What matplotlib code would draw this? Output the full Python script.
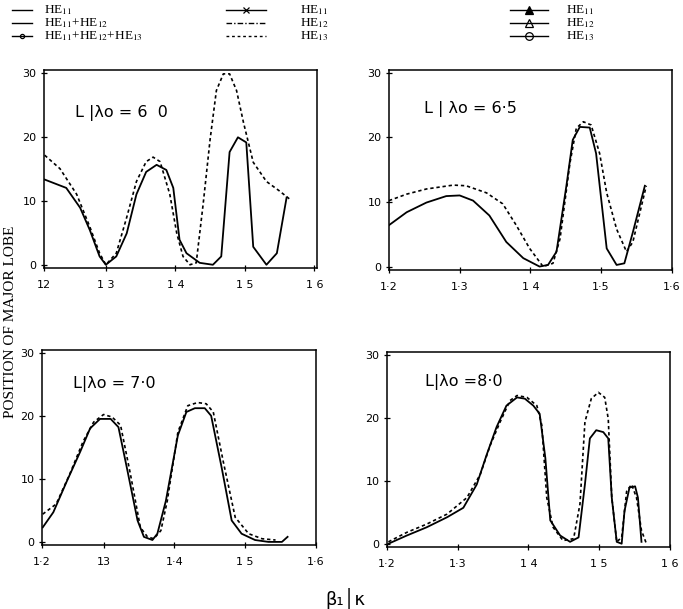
import matplotlib
matplotlib.use("Agg")
import matplotlib.pyplot as plt
from matplotlib.lines import Line2D

plt.rcParams['font.family'] = ['DejaVu Sans']
plt.rcParams['mathtext.fontset'] = 'stix'

# ---------------- data ----------------
# Panel L/λo = 6.0
x60_solid = [1.212, 1.243, 1.263, 1.277, 1.291, 1.300, 1.315, 1.330, 1.344, 1.358, 1.373, 1.387,
             1.397, 1.406, 1.416, 1.435, 1.454, 1.466, 1.478, 1.490, 1.502, 1.512, 1.531, 1.546, 1.560]
y60_solid = [13.3, 12.0, 8.9, 5.4, 1.3, 0.0, 1.3, 4.9, 11.0, 14.5, 15.6, 14.8,
             12.0, 3.9, 1.8, 0.3, 0.0, 1.3, 17.6, 19.9, 19.1, 2.8, 0.0, 1.8, 10.5]
x60_dash = [1.212, 1.234, 1.258, 1.277, 1.291, 1.300, 1.315, 1.330, 1.344, 1.358, 1.368, 1.378,
            1.392, 1.402, 1.411, 1.421, 1.430, 1.440, 1.450, 1.459, 1.469, 1.478, 1.488, 1.498,
            1.512, 1.531, 1.550, 1.565]
y60_dash = [17.1, 15.0, 11.0, 5.9, 1.8, 0.0, 1.8, 7.4, 13.0, 16.1, 16.8, 16.1,
            11.0, 4.9, 1.3, 0.0, 0.3, 9.5, 19.6, 27.2, 29.8, 29.8, 27.2, 22.2,
            16.0, 13.0, 11.5, 10.2]

# Panel L/λo = 6.5
x65_solid = [1.200, 1.225, 1.253, 1.281, 1.300, 1.319, 1.342, 1.366, 1.390, 1.413, 1.425, 1.437,
             1.451, 1.460, 1.470, 1.484, 1.493, 1.508, 1.522, 1.533, 1.545, 1.562]
y65_solid = [6.4, 8.4, 9.9, 10.9, 11.0, 10.2, 7.9, 3.8, 1.3, 0.0, 0.25, 2.3,
             12.5, 19.6, 21.6, 21.5, 17.5, 2.8, 0.25, 0.5, 5.3, 12.5]
x65_dash = [1.200, 1.225, 1.253, 1.291, 1.309, 1.338, 1.361, 1.380, 1.399, 1.418, 1.432, 1.442,
            1.456, 1.465, 1.475, 1.486, 1.498, 1.508, 1.522, 1.536, 1.545, 1.564]
y65_dash = [10.2, 11.2, 12.0, 12.6, 12.5, 11.4, 9.7, 6.4, 2.8, 0.0, 0.5, 4.3,
            16.0, 21.4, 22.4, 21.9, 17.5, 11.4, 5.8, 2.3, 3.8, 12.5]

# Panel L/λo = 7.0
x70_solid = [1.214, 1.229, 1.248, 1.267, 1.281, 1.295, 1.310, 1.321, 1.333, 1.348, 1.357, 1.369,
             1.376, 1.388, 1.405, 1.417, 1.429, 1.443, 1.452, 1.467, 1.481, 1.495, 1.514, 1.533,
             1.552, 1.560]
y70_solid = [2.3, 4.7, 9.6, 14.3, 18.0, 19.5, 19.5, 18.2, 11.7, 3.4, 0.8, 0.3,
             1.3, 6.5, 16.9, 20.6, 21.2, 21.2, 20.0, 11.7, 3.4, 1.3, 0.3, 0.0,
             0.0, 0.8]
x70_dash = [1.214, 1.233, 1.252, 1.271, 1.286, 1.300, 1.312, 1.324, 1.338, 1.352, 1.362, 1.371,
            1.381, 1.390, 1.405, 1.419, 1.433, 1.445, 1.455, 1.469, 1.486, 1.505, 1.524, 1.543]
y70_dash = [4.4, 6.0, 10.7, 15.9, 19.0, 20.2, 19.8, 18.5, 10.7, 2.3, 0.8, 0.5,
            1.8, 6.5, 17.4, 21.6, 22.1, 21.9, 20.6, 12.8, 3.9, 1.3, 0.5, 0.3]

# Panel L/λo = 8.0
x80_solid = [1.202, 1.228, 1.256, 1.285, 1.308, 1.327, 1.341, 1.355, 1.369, 1.384, 1.395, 1.407,
             1.416, 1.424, 1.431, 1.445, 1.459, 1.471, 1.480, 1.487, 1.496, 1.506, 1.513, 1.518,
             1.525, 1.532, 1.536, 1.543, 1.551, 1.555, 1.560]
y80_solid = [0.0, 1.3, 2.6, 4.2, 5.7, 9.4, 14.1, 18.5, 21.9, 23.2, 23.0, 21.9,
             20.6, 13.6, 3.7, 1.3, 0.3, 1.0, 9.4, 16.7, 18.0, 17.7, 16.7, 7.3,
             0.3, 0.0, 5.2, 8.9, 9.1, 7.3, 0.3]
x80_dash = [1.202, 1.228, 1.256, 1.285, 1.313, 1.332, 1.346, 1.360, 1.374, 1.384, 1.398, 1.412,
            1.419, 1.426, 1.435, 1.449, 1.464, 1.473, 1.480, 1.489, 1.499, 1.508, 1.513, 1.518,
            1.525, 1.532, 1.539, 1.546, 1.553, 1.560, 1.567]
y80_dash = [0.3, 1.8, 3.1, 4.7, 7.3, 11.0, 15.6, 19.3, 22.7, 23.5, 23.2, 21.9,
            18.8, 7.3, 2.6, 0.5, 0.8, 6.3, 19.3, 23.0, 24.0, 23.2, 19.8, 7.3,
            0.3, 1.0, 8.3, 9.4, 7.3, 2.1, 0.0]

panel_titles = ["L |λo = 6  0", "L | λo = 6·5", "L|λo = 7·0", "L|λo =8·0"]
y_ticks = [0, 10, 20, 30]
x_ticks = [1.2, 1.3, 1.4, 1.5, 1.6]
x_ticklabels = [["12", "1 3", "1 4", "1 5", "1 6"],
                ["1·2", "1·3", "1 4", "1·5", "1·6"],
                ["1·2", "13", "1·4", "1 5", "1·6"],
                ["1·2", "1·3", "1 4", "1 5", "1 6"]]

legend_col1 = [r"HE$_{11}$", r"HE$_{11}$+HE$_{12}$", r"HE$_{11}$+HE$_{12}$+HE$_{13}$"]
legend_col2 = [r"HE$_{11}$", r"HE$_{12}$", r"HE$_{13}$"]
legend_col3 = [r"HE$_{11}$", r"HE$_{12}$", r"HE$_{13}$"]

# ---------------- figure ----------------
W, H = 683.0, 609.0
fig = plt.figure(figsize=(6.83, 6.09), dpi=100)

rects = [[0.0644, 0.560, 0.400, 0.325],
         [0.5695, 0.557, 0.414, 0.328],
         [0.0615, 0.105, 0.401, 0.320],
         [0.5666, 0.102, 0.414, 0.320]]
xlims = [(1.211, 1.604), (1.2, 1.6), (1.213, 1.6), (1.2, 1.6)]
title_pos = [(1.255, 23.7), (1.250, 24.4), (1.257, 25.0), (1.254, 25.6)]
series = [(x60_solid, y60_solid, x60_dash, y60_dash),
          (x65_solid, y65_solid, x65_dash, y65_dash),
          (x70_solid, y70_solid, x70_dash, y70_dash),
          (x80_solid, y80_solid, x80_dash, y80_dash)]

for i in range(4):
    ax = fig.add_axes(rects[i])
    xs, ys, xd, yd = series[i]
    ax.plot(xs, ys, color='black', lw=1.3, solid_joinstyle='round')
    ax.plot(xd, yd, color='black', lw=1.2, linestyle=(0, (2.0, 1.7)))
    ax.set_xlim(*xlims[i])
    ax.set_ylim(-0.5, 30.4)
    ticks = [xlims[i][0]] + x_ticks[1:]
    ax.set_xticks(ticks)
    ax.set_xticklabels(x_ticklabels[i])
    ax.set_yticks(y_ticks)
    ax.set_yticklabels([str(v) for v in y_ticks])
    ax.tick_params(direction='inout', length=5, width=0.9, labelsize=8, pad=3,
                   colors='black')
    ax.tick_params(axis='x', pad=6)
    for sp in ax.spines.values():
        sp.set_linewidth(1.1)
    ax.text(title_pos[i][0], title_pos[i][1], panel_titles[i], fontsize=11.5,
            ha='left', va='center')

# axis labels
fig.text(11 / W, 1 - 322 / H, "POSITION OF MAJOR LOBE", rotation=90,
         family='Liberation Serif', fontsize=11, ha='center', va='center')
fig.text(345 / W, 1 - 598 / H, "β₁│κ", fontsize=13, ha='center', va='center')

# ---------------- legend (three columns, drawn in figure pixels) ----------------
def sample(x0, x1, y, ls='-', marker=None, mfc='none', ms=4):
    fig.add_artist(Line2D([x0 / W, x1 / W], [1 - y / H, 1 - y / H],
                          transform=fig.transFigure, color='black', lw=1.0, linestyle=ls))
    if marker is not None:
        fig.add_artist(Line2D([(x0 + x1) / 2 / W], [1 - y / H], transform=fig.transFigure,
                              marker=marker, markersize=ms, markerfacecolor=mfc,
                              markeredgecolor='black', markeredgewidth=0.9, linestyle='none'))

rows_y = [10, 23, 36]
col1_styles = [dict(), dict(), dict(marker='o', ms=3)]
col2_styles = [dict(marker='x', ms=5), dict(ls=(0, (4, 1.5, 1, 1.5))), dict(ls=(0, (2, 2)))]
col3_styles = [dict(marker='^', mfc='black', ms=5.5), dict(marker='^', ms=5.5), dict(marker='o', ms=5.5)]

cols = [(12, 32, 44, legend_col1, col1_styles),
        (226, 266, 300, legend_col2, col2_styles),
        (510, 548, 566, legend_col3, col3_styles)]
for x0, x1, xt, labels, styles in cols:
    for y, lab, st in zip(rows_y, labels, styles):
        sample(x0, x1, y, **st)
        fig.text(xt / W, 1 - y / H, lab, family='Liberation Serif', fontsize=9.5,
                 ha='left', va='center')

fig.savefig("out.png", dpi=100)
